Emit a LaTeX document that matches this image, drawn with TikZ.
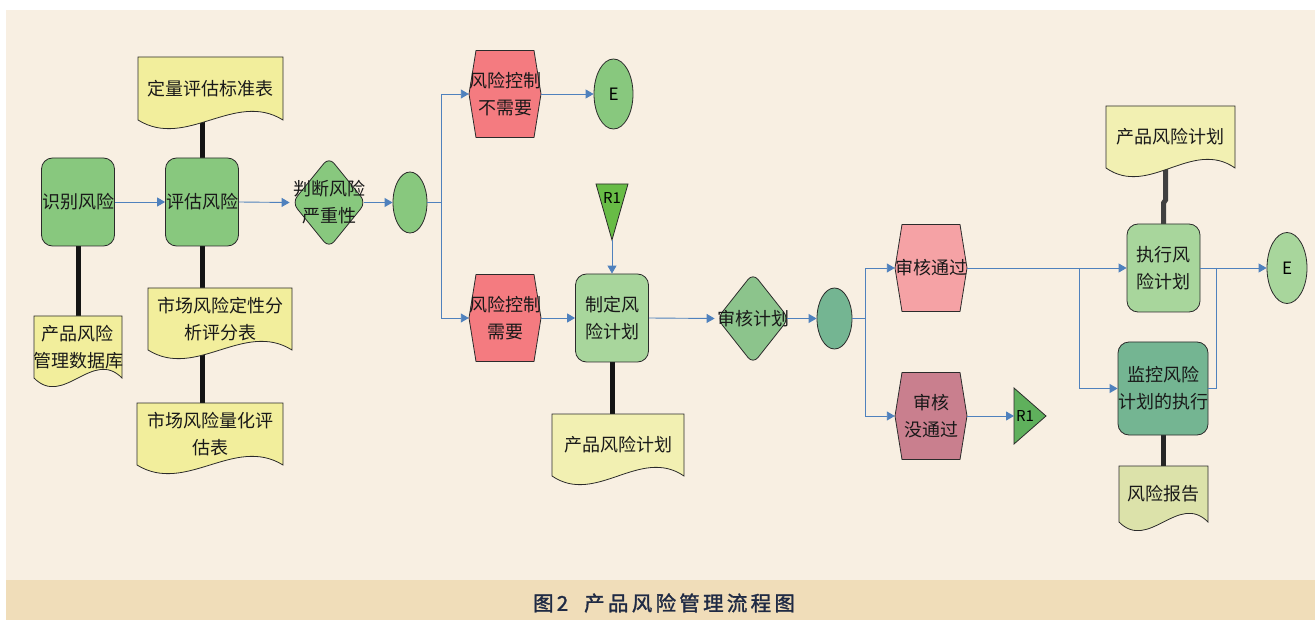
\documentclass[tikz,border=0pt]{standalone}
\usepackage{fontspec}
\setmainfont{Noto Sans CJK SC}
\newfontfamily\capfont[LetterSpace=16,FakeBold=1.5]{Noto Sans CJK SC}
\usetikzlibrary{arrows.meta,shapes.geometric,calc}
\pgfdeclarelayer{bgfill}
\pgfdeclarelayer{background}
\pgfsetlayers{bgfill,background,main}
\definecolor{bg}{HTML}{F8EFE2}
\definecolor{band}{HTML}{F0DDB9}
\definecolor{gr}{HTML}{88C87E}
\definecolor{grl}{HTML}{A8D69C}
\definecolor{grd}{HTML}{74B592}
\definecolor{grm}{HTML}{8CC48C}
\definecolor{tri}{HTML}{68BC46}
\definecolor{trib}{HTML}{5FB05C}
\definecolor{yel}{HTML}{F2EE9C}
\definecolor{yell}{HTML}{F2F0B2}
\definecolor{yelg}{HTML}{DCE2AA}
\definecolor{rd}{HTML}{F47B80}
\definecolor{rdl}{HTML}{F5A2A5}
\definecolor{rdd}{HTML}{C97F8E}
\definecolor{bl}{HTML}{4F81BD}
\definecolor{edge}{HTML}{2B2B2B}
\definecolor{capc}{HTML}{1F2A44}
\tikzset{
  txt/.style={inner sep=0pt, align=center, text=black!90, font=\fontsize{18}{27}\selectfont},
  box/.style={txt, rectangle, rounded corners=11pt, draw=edge, line width=0.8pt, minimum width=73pt, minimum height=88pt},
  dia/.style={diamond, draw=edge, line width=0.8pt, rounded corners=8pt, inner sep=0pt},
  ell/.style={ellipse, draw=edge, line width=0.8pt, inner sep=0pt, font=\fontsize{17}{20}\selectfont},
  flow/.style={draw=bl, line width=0.9pt, -{Triangle[length=8pt,width=9pt]}},
  plain/.style={draw=bl, line width=0.9pt},
  thick link/.style={draw=black!92, line width=5pt}
}
% hexagon: name, cx, cy, fill, text
\newcommand\hexnode[5]{%
  \filldraw[draw=edge, line width=0.8pt, fill=#4]
    ({#2-29},{#3-43.5}) -- ({#2+29},{#3-43.5}) -- ({#2+36},{#3}) --
    ({#2+29},{#3+43.5}) -- ({#2-29},{#3+43.5}) -- ({#2-36},{#3}) -- cycle;
  \node[txt, minimum width=72pt, minimum height=87pt] (#1) at (#2,#3) {#5};}
% document: [fill] name, L, T, R, B ; text in \docText
\newcommand\docText{}
\newcommand\docnode[6][yel]{%
  \filldraw[draw=edge, line width=0.8pt, fill=#1]
    (#3,#4) -- (#5,#4) -- (#5,#6)
    .. controls ({#5-(#5-#3)/3},{#6-30}) and ({#3+(#5-#3)/3},{#6+30}) .. (#3,#6) -- cycle;
  \node[txt, minimum width={#5-#3}, minimum height={#6-#4}] (#2) at ({(#3+#5)/2},{(#4+#6)/2}) {\docText};}
\begin{document}
\begin{tikzpicture}[x=1pt,y=-1pt]
\useasboundingbox (0,0) rectangle (1315,620);
\begin{pgfonlayer}{bgfill}
  \fill[white] (0,0) rectangle (1315,620);
  \fill[bg] (6,10) rectangle (1315,580);
  \fill[band] (6,580) rectangle (1315,620);
\end{pgfonlayer}

% process boxes
\node[box, fill=gr] (sb) at (78,202) {识别风险};
\node[box, fill=gr] (pg) at (202,202) {评估风险};
\node[box, fill=grl] (zd) at (612,318) {制定风\\险计划};
\node[box, fill=grl] (zx) at (1163.5,268) {执行风\\险计划};
\node[box, fill=grd, minimum width=78pt, minimum height=93pt] (jk) at (1163,388.5) {监控风险\\计划的执行};

% documents
\renewcommand\docText{定量评估标准表}
\docnode{dq}{138}{57}{283}{120}
\renewcommand\docText{产品风险\\管理数据库}
\docnode{db}{34}{316}{122}{378}
\renewcommand\docText{市场风险定性分\\析评分表}
\docnode{dx}{148}{288}{292}{350}
\renewcommand\docText{市场风险量化评\\估表}
\docnode{dl}{137}{403}{283}{465}
\renewcommand\docText{产品风险计划}
\docnode[yell]{pp1}{552}{414}{684}{476}
\renewcommand\docText{产品风险计划}
\docnode[yell]{pp2}{1106}{106}{1235}{168}
\renewcommand\docText{风险报告}
\docnode[yelg]{rb}{1119}{466}{1208}{522}

% decisions
\node[dia, fill=gr, minimum width=74pt, minimum height=91pt] (jd) at (329,202.5) {};
\node[txt] at (jd) {判断风险\\严重性};
\node[dia, fill=grm, minimum width=72pt, minimum height=91pt] (sh) at (753,318.5) {};
\node[txt] at (sh) {审核计划};

% ellipses
\node[ell, fill=gr, minimum width=34pt, minimum height=61pt] (el1) at (410,202.5) {};
\node[ell, fill=gr, minimum width=39pt, minimum height=70pt] (e1) at (613.5,94) {E};
\node[ell, fill=grd, minimum width=35pt, minimum height=61pt] (el2) at (834.5,318.5) {};
\node[ell, fill=grl, minimum width=40pt, minimum height=71pt] (e2) at (1287,268) {E};

% hexagons
\hexnode{bnx}{505}{94}{rd}{风险控制\\不需要}
\hexnode{bx}{505}{318}{rd}{风险控制\\需要}
\hexnode{tg}{931}{268}{rdl}{审核通过}
\hexnode{ntg}{931}{416}{rdd}{审核\\没通过}

% R1 connectors (off-page)
\filldraw[draw=edge, line width=0.8pt, fill=tri] (596,184) -- (628,184) -- (612,240) -- cycle;
\node[font=\fontsize{15}{18}\selectfont, inner sep=0pt] (r1a) at (612,198) {R1};
\coordinate (r1tip) at (612,240);
\filldraw[draw=edge, line width=0.8pt, fill=trib] (1014,388) -- (1046,416) -- (1014,444) -- cycle;
\node[font=\fontsize{15}{18}\selectfont, inner sep=0pt] (r1b) at (1025,416) {R1};
\coordinate (r1in) at (1014,416);

% thick data links
\begin{pgfonlayer}{background}
  \draw[thick link] (sb.center) -- (sb.center |- db.center);
  \draw[thick link] (pg.center) -- (pg.center |- dq.center);
  \draw[thick link] (pg.center) -- (pg.center |- dl.center);
  \draw[thick link] (zd.center) -- (zd.center |- pp1.center);
  \draw[thick link, black!75] (zx.center) -- ++(0,-65) -- ++(2,-3) -- (1165.5,140);
  \draw[thick link, black!85] (jk.center) -- (jk.center |- rb.center);
\end{pgfonlayer}

% flow connectors
\draw[flow] (sb.east) -- (pg.west);
\draw[flow] (pg.east) -- ([xshift=-2pt]jd.west);
\draw[flow] ([xshift=-2pt]jd.east) -- (el1.west);
\draw[plain] (el1.east) -- (441,202.5) coordinate (j1);
\draw[flow] (j1) |- (bnx.west);
\draw[flow] (j1) |- (bx.west);
\draw[flow] (bnx.east) -- (e1.west);
\draw[flow] (r1tip) -- (zd.north);
\draw[flow] (bx.east) -- (zd.west);
\draw[flow] (zd.east) -- ([xshift=-2pt]sh.west);
\draw[flow] ([xshift=-2pt]sh.east) -- (el2.west);
\draw[plain] (el2.east) -- (865,318.5) coordinate (j2);
\draw[flow] (j2) |- (tg.west);
\draw[flow] (j2) |- (ntg.west);
\draw[flow] (ntg.east) -- (r1in);
\draw[flow] (tg.east) -- (zx.west);
\coordinate (j3) at (1079,268);
\draw[flow] (j3) |- (jk.west);
\draw[flow] (zx.east) -- (e2.west);
\coordinate (j4) at (1216,268);
\draw[plain] (j4) |- (jk.east);

% caption
\node[font=\capfont\fontsize{20.5}{24}\selectfont, text=capc, inner sep=0pt] (cap) at (664,603) {图2\hspace{16pt}产品风险管理流程图};
\end{tikzpicture}
\end{document}
